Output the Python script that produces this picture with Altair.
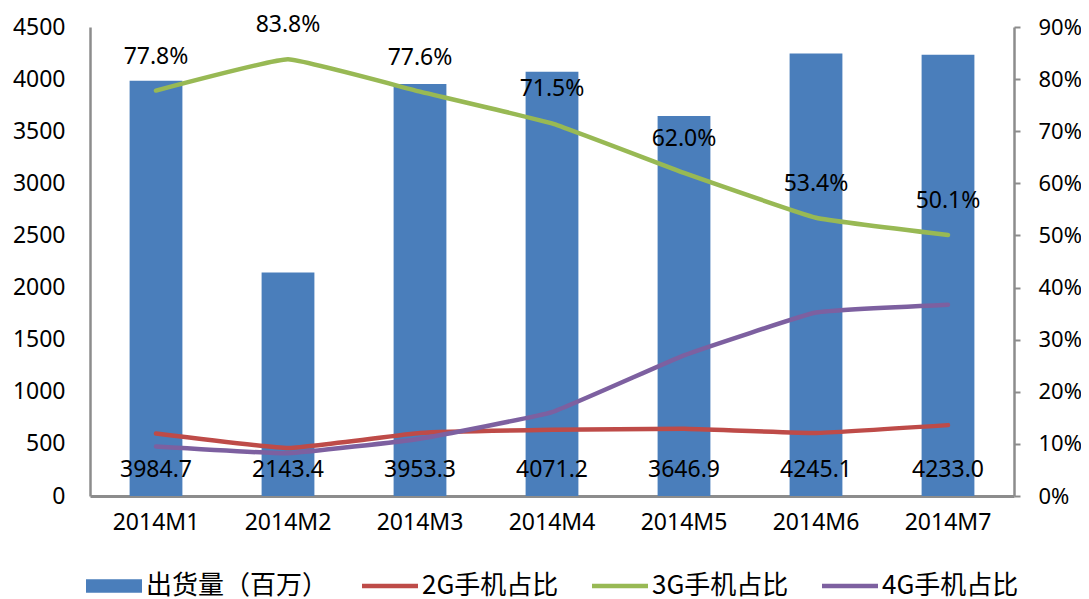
import altair as alt
import pandas as pd

months = ["2014M1", "2014M2", "2014M3", "2014M4", "2014M5", "2014M6", "2014M7"]
shipments = [3984.7, 2143.4, 3953.3, 4071.2, 3646.9, 4245.1, 4233.0]
share_2g = [12.0, 9.2, 12.1, 12.7, 12.9, 12.1, 13.6]
share_3g = [77.8, 83.8, 77.6, 71.5, 62.0, 53.4, 50.1]
share_4g = [9.5, 8.2, 11.0, 16.1, 27.0, 35.2, 36.7]

series_names = ["出货量（百万）", "2G手机占比", "3G手机占比", "4G手机占比"]
series_colors = ["#4A7EBB", "#BE4B48", "#98B954", "#7D60A0"]
left_ticks = [0, 500, 1000, 1500, 2000, 2500, 3000, 3500, 4000, 4500]
right_ticks = [0.0, 0.1, 0.2, 0.3, 0.4, 0.5, 0.6, 0.7, 0.8, 0.9]

bar_df = pd.DataFrame({
    "month": months,
    "shipments": shipments,
    "label": [f"{v:.1f}" for v in shipments],
})

rows = []
for name, vals in zip(series_names[1:], [share_2g, share_3g, share_4g]):
    for m, v in zip(months, vals):
        rows.append({"month": m, "series": name, "share": v / 100.0})
line_df = pd.DataFrame(rows)
label_df = pd.DataFrame({
    "month": months,
    "share": [v / 100.0 for v in share_3g],
    "label": [f"{v:.1f}%" for v in share_3g],
})
legend_df = pd.DataFrame({"series": series_names})

NUM_FONT = "Noto Sans"
CJK_FONT = "Noto Sans CJK SC"
AXIS_GRAY = "#8C8C8C"

x_enc = alt.X(
    "month:N",
    sort=months,
    scale=alt.Scale(domain=months, paddingInner=0.6, paddingOuter=0.3),
    axis=alt.Axis(
        title=None, labelAngle=0, ticks=False, domainColor=AXIS_GRAY,
        domainWidth=3, labelFontSize=23, labelFont=NUM_FONT,
        labelColor="#000000", labelPadding=15,
    ),
)

bars = alt.Chart(bar_df).mark_bar(color=series_colors[0]).encode(
    x=x_enc,
    y=alt.Y(
        "shipments:Q",
        scale=alt.Scale(domain=[0, 4500], nice=False),
        axis=alt.Axis(
            title=None, values=left_ticks, format="d", ticks=False, grid=False,
            domainColor=AXIS_GRAY, domainWidth=2.5, labelFontSize=23,
            labelFont=NUM_FONT, labelColor="#000000", labelPadding=25,
        ),
    ),
)

bar_text = alt.Chart(bar_df).mark_text(
    font=NUM_FONT, fontSize=23, color="#000000", baseline="middle"
).encode(
    x=alt.X("month:N", sort=months),
    y=alt.datum(250),
    text="label:N",
)

left = alt.layer(bars, bar_text)

lines = alt.Chart(line_df).mark_line(
    strokeWidth=4.5, interpolate="cardinal", tension=0.7,
    strokeCap="round", strokeJoin="round"
).encode(
    x=alt.X("month:N", sort=months),
    y=alt.Y(
        "share:Q",
        scale=alt.Scale(domain=[0, 0.9], nice=False),
        axis=alt.Axis(
            title=None, orient="right", format=".0%", values=right_ticks,
            tickSize=6, tickColor=AXIS_GRAY, tickWidth=2, grid=False,
            domainColor=AXIS_GRAY, domainWidth=2.5, labelFontSize=22,
            labelFont=NUM_FONT, labelColor="#000000", labelPadding=18,
        ),
    ),
    stroke=alt.Stroke(
        "series:N",
        scale=alt.Scale(domain=series_names[1:], range=series_colors[1:]),
        legend=None,
    ),
    detail="series:N",
)

pct_text = alt.Chart(label_df).mark_text(
    font=NUM_FONT, fontSize=23, color="#000000", baseline="middle", dy=-34
).encode(
    x=alt.X("month:N", sort=months),
    y=alt.Y("share:Q"),
    text="label:N",
)

right = alt.layer(lines, pct_text)

bar_path = "M-1,-0.24H1V0.24H-1Z"
line_path = "M-1,-0.08H1V0.08H-1Z"

legend_kw = dict(
    title=None, orient="none", legendX=-4, legendY=531, direction="horizontal",
    symbolSize=3136, labelFontSize=26, labelFont=CJK_FONT, labelColor="#000000",
    labelOffset=4, columnPadding=33, padding=0, symbolStrokeWidth=0, labelLimit=0,
)

legend_layer = alt.Chart(legend_df).mark_point(
    filled=True, opacity=1, strokeWidth=0
).encode(
    fill=alt.Fill(
        "series:N",
        scale=alt.Scale(domain=series_names, range=series_colors),
        legend=alt.Legend(**legend_kw),
    ),
    shape=alt.Shape(
        "series:N",
        scale=alt.Scale(domain=series_names, range=[bar_path, line_path, line_path, line_path]),
        legend=alt.Legend(**legend_kw),
    ),
).transform_filter("false")

chart = alt.layer(left, right, legend_layer).resolve_scale(
    y="independent"
).properties(
    width=924,
    height=469,
    padding={"left": 82, "top": 19, "right": 67, "bottom": 115},
    autosize=alt.AutoSizeParams(type="none"),
    background="#FFFFFF",
).configure_view(stroke=None)

chart.save("out.html", embed_options={"renderer": "svg", "actions": False})
